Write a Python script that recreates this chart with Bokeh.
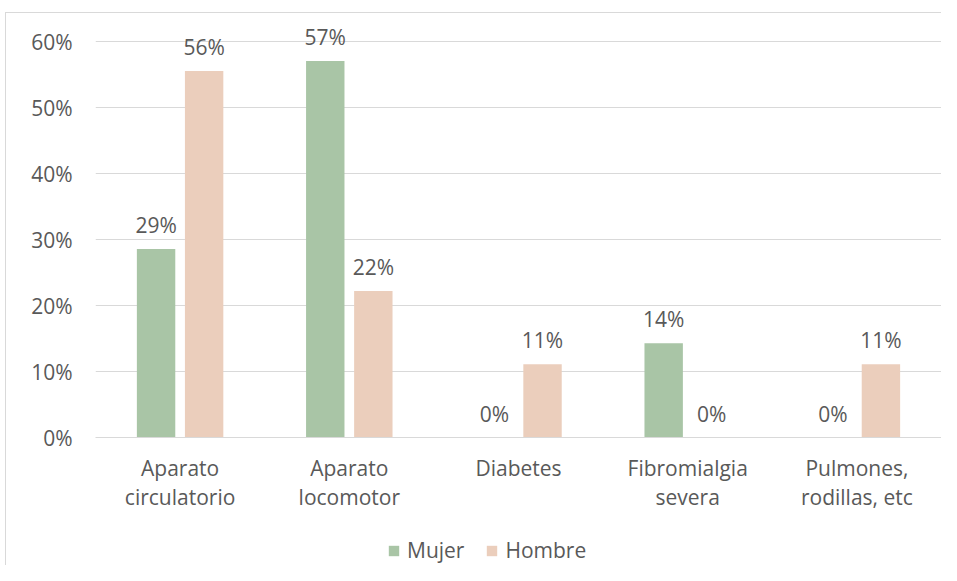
from bokeh.plotting import figure
from bokeh.layouts import column
from bokeh.models import ColumnDataSource, FactorRange, NumeralTickFormatter, Legend, LegendItem, FixedTicker
from bokeh.transform import dodge
from bokeh.core.properties import value
from bokeh.embed import file_html
from bokeh.resources import INLINE

categories = ["Aparato\ncirculatorio", "Aparato\nlocomotor", "Diabetes", "Fibromialgia\nsevera", "Pulmones,\nrodillas, etc"]
mujer = [0.286, 0.571, 0.0, 0.143, 0.0]
hombre = [0.556, 0.222, 0.111, 0.0, 0.111]
series_names = ["Mujer", "Hombre"]
y_ticks = [0, 0.1, 0.2, 0.3, 0.4, 0.5, 0.6]
colors = ["#A9C5A6", "#EBCEBC"]

FONT = value("Open Sans")
TXT = "#595959"
GRID = "#D9D9D9"

src = ColumnDataSource(dict(
    cat=categories,
    mujer=mujer,
    hombre=hombre,
    mujer_lbl=[f"{round(v * 100)}%" for v in mujer],
    hombre_lbl=[f"{round(v * 100)}%" for v in hombre],
))

xr = FactorRange(*categories, range_padding=0)
p = figure(x_range=xr, y_range=(0, 0.64),
           width=941, height=515, output_backend="svg", toolbar_location=None,
           min_border_left=95, min_border_right=0, min_border_top=15, min_border_bottom=78)
p.background_fill_color = None
p.border_fill_color = None

off = 0.142
bw = 0.227
p.vbar(x=dodge("cat", -off, range=xr), top="mujer", width=bw, source=src,
       fill_color=colors[0], line_color=None)
p.vbar(x=dodge("cat", off, range=xr), top="hombre", width=bw, source=src,
       fill_color=colors[1], line_color=None)

for col, lbl, o in [("mujer", "mujer_lbl", -off), ("hombre", "hombre_lbl", off)]:
    p.text(x=dodge("cat", o, range=xr), y=col, text=lbl, source=src,
           text_align="center", text_baseline="alphabetic", y_offset=-24,
           text_font=FONT, text_font_size="21px", text_color=TXT)

p.outline_line_color = None
p.xgrid.grid_line_color = None
p.ygrid.grid_line_color = GRID
p.ygrid.grid_line_width = 1

p.yaxis.formatter = NumeralTickFormatter(format="0%")
p.yaxis.ticker = FixedTicker(ticks=y_ticks)
p.yaxis.axis_line_color = None
p.yaxis.major_tick_line_color = None
p.yaxis.minor_tick_line_color = None
p.yaxis.major_label_standoff = 17

p.xaxis.axis_line_color = GRID
p.xaxis.axis_line_width = 1
p.xaxis.major_tick_line_color = None
p.xaxis.minor_tick_line_color = None
p.xaxis.major_label_standoff = 10
p.xaxis.major_label_text_line_height = 1.05

for ax in (p.xaxis, p.yaxis):
    ax.major_label_text_font = "Open Sans"
    ax.major_label_text_font_size = "21px"
    ax.major_label_text_color = TXT

# legend strip below the chart
p2 = figure(x_range=xr, y_range=(10, 11), width=941, height=50,
            output_backend="svg", toolbar_location=None,
            x_axis_location=None, y_axis_location=None,
            min_border_left=0, min_border_right=0, min_border_top=0, min_border_bottom=0)
p2.background_fill_color = None
p2.border_fill_color = None
p2.outline_line_color = None
p2.grid.grid_line_color = None
l1 = p2.vbar(x=dodge("cat", -off, range=xr), top="mujer", width=bw, source=src,
             fill_color=colors[0], line_color=None)
l2 = p2.vbar(x=dodge("cat", off, range=xr), top="hombre", width=bw, source=src,
             fill_color=colors[1], line_color=None)
legend = Legend(items=[LegendItem(label=series_names[0], renderers=[l1]),
                       LegendItem(label=series_names[1], renderers=[l2])],
                orientation="horizontal", location=(292, 1),
                glyph_width=13, glyph_height=13, label_standoff=7, spacing=21,
                padding=0, margin=0, border_line_color=None, background_fill_alpha=0,
                label_text_font="Open Sans", label_text_font_size="21px", label_text_color=TXT)
p2.add_layout(legend, "center")

layout = column(p, p2, spacing=0)
layout.styles = {
    "background": ("linear-gradient(#D9D9D9, #D9D9D9) 5px 12px / 1px 100% no-repeat, "
                   "linear-gradient(#D9D9D9, #D9D9D9) 5px 12px / 100% 1px no-repeat, #FFFFFF"),
}

open("out.html", "w").write(file_html(layout, INLINE))
